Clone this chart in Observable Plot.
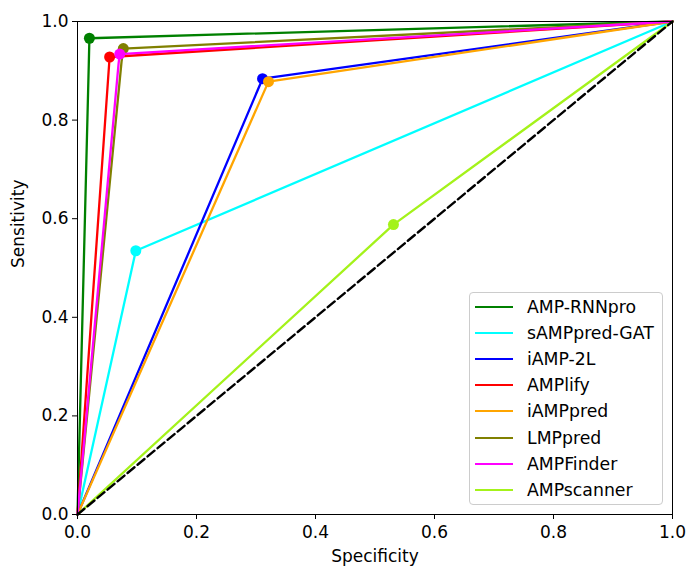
<!DOCTYPE html>
<html>
<head>
<meta charset="utf-8">
<script src="https://cdn.jsdelivr.net/npm/d3@7"></script>
<script src="https://cdn.jsdelivr.net/npm/@observablehq/plot@0.6"></script>
<style>
  body { margin: 0; background: white; }
  #wrap { position: relative; width: 686px; height: 566px; font-family: "DejaVu Sans", sans-serif; }
  #legend { position: absolute; left: 469px; top: 292px; width: 192px; height: 211px;
    border: 1px solid #cccccc; border-radius: 4px; background: rgba(255,255,255,0.8); }
  .item { position: absolute; left: 0; height: 20px; display: flex; align-items: center; }
  .swatch { position: absolute; left: 5px; width: 38px; height: 2px; }
  .lbl { position: absolute; left: 57px; font-size: 17.3px; white-space: nowrap; color: #000; line-height: 20px; }
</style>
</head>
<body>
<div id="wrap"></div>
<script>
// ---- data ----
const models = ["AMP-RNNpro", "sAMPpred-GAT", "iAMP-2L", "AMPlify", "iAMPpred", "LMPpred", "AMPFinder", "AMPscanner"];
const colors = ["green", "cyan", "blue", "red", "orange", "olive", "magenta", "#a4f21a"];
const curveX = [
  [0, 0.019, 0.020, 1],
  [0, 0.098, 1],
  [0, 0.311, 1],
  [0, 0.054, 1],
  [0, 0.321, 1],
  [0, 0.074, 0.077, 1],
  [0, 0.069, 0.071, 1],
  [0, 0.531, 1]
];
const curveY = [
  [0, 0.915, 0.966, 1],
  [0, 0.535, 1],
  [0, 0.884, 1],
  [0, 0.928, 1],
  [0, 0.878, 1],
  [0, 0.918, 0.945, 1],
  [0, 0.914, 0.934, 1],
  [0, 0.588, 1]
];
const markerX = [0.020, 0.098, 0.311, 0.054, 0.321, 0.077, 0.071, 0.531];
const markerY = [0.966, 0.535, 0.884, 0.928, 0.878, 0.945, 0.934, 0.588];
const diagonal = [0, 1];
const tickValues = [0, 0.2, 0.4, 0.6, 0.8, 1.0];
const xLabel = "Specificity";
const yLabel = "Sensitivity";

// ---- marks ----
const marks = [];
models.forEach((m, i) => {
  const pts = curveX[i].map((x, j) => ({x, y: curveY[i][j]}));
  marks.push(Plot.line(pts, {x: "x", y: "y", stroke: colors[i], strokeWidth: 2.3}));
  marks.push(Plot.dot([{x: markerX[i], y: markerY[i]}], {x: "x", y: "y", r: 5.5, fill: colors[i], stroke: "none"}));
});
marks.push(Plot.line(diagonal.map(d => ({x: d, y: d})), {x: "x", y: "y", stroke: "black", strokeWidth: 2.4, strokeDasharray: "9,4"}));
marks.push(Plot.frame({stroke: "black", strokeWidth: 1}));
marks.push(Plot.axisX({ticks: tickValues, tickFormat: d3.format(".1f"), tickSize: 5, tickPadding: 6, label: null, fontSize: 17}));
marks.push(Plot.axisY({ticks: tickValues, tickFormat: d3.format(".1f"), tickSize: 5, tickPadding: 4, label: null, fontSize: 17}));
marks.push(Plot.text([xLabel], {text: d => d, frameAnchor: "bottom", dy: 42, fontSize: 17, lineAnchor: "middle"}));
marks.push(Plot.text([yLabel], {text: d => d, frameAnchor: "left", dx: -59, rotate: -90, fontSize: 17, lineAnchor: "middle"}));

const chart = Plot.plot({
  width: 686,
  height: 566,
  marginLeft: 77,
  marginRight: 14,
  marginTop: 21,
  marginBottom: 52,
  x: {domain: [0, 1]},
  y: {domain: [0, 1]},
  style: {fontFamily: "DejaVu Sans, sans-serif", fontSize: "17px", color: "black", background: "white"},
  marks
});
const wrap = document.getElementById("wrap");
wrap.appendChild(chart);

// ---- legend ----
const legend = document.createElement("div");
legend.id = "legend";
models.forEach((m, i) => {
  const item = document.createElement("div");
  item.className = "item";
  item.style.top = (4 + 26.1 * i) + "px";
  const sw = document.createElement("div");
  sw.className = "swatch";
  sw.style.background = colors[i];
  sw.style.top = "9px";
  const lb = document.createElement("div");
  lb.className = "lbl";
  lb.textContent = m;
  item.appendChild(sw);
  item.appendChild(lb);
  legend.appendChild(item);
});
wrap.appendChild(legend);
</script>
</body>
</html>
